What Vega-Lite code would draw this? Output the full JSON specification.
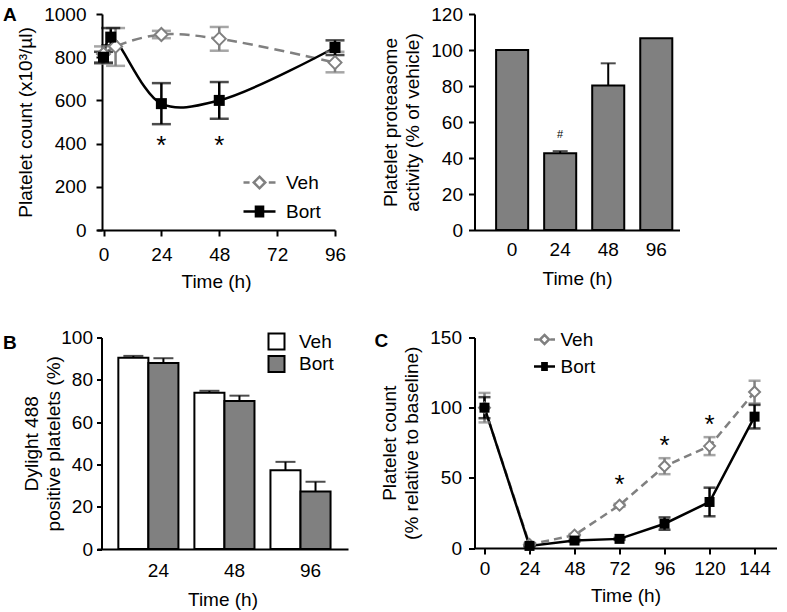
{
 "$schema": "https://vega.github.io/schema/vega-lite/v6.json",
 "background": "white",
 "padding": {"left": 3, "top": 5, "right": 5, "bottom": 5},
 "columns": 2,
 "bounds": "flush",
 "spacing": {"row": 107.5, "column": 126.5},
 "resolve": {"scale": {"color": "independent"}, "legend": {"color": "independent"}},
 "config": {
  "font": "Liberation Sans",
  "view": {"stroke": null},
  "axis": {"domainColor": "black", "domainWidth": 2, "tickColor": "black", "tickWidth": 2, "tickSize": 6, "labelFont": "Liberation Sans", "labelFontSize": 19, "labelColor": "black", "labelPadding": 5, "labelOverlap": false, "titleFont": "Liberation Sans", "titleFontSize": 19, "titleFontWeight": "normal", "titleColor": "black", "grid": false, "titleLineHeight": 22, "titlePadding": 8},
  "legend": {"labelFont": "Liberation Sans", "labelFontSize": 19, "labelColor": "black", "padding": 0},
  "title": {"font": "Liberation Sans", "fontSize": 19, "fontWeight": "bold", "color": "black", "anchor": "start", "frame": "group", "offset": -20}
 },
 "datasets": {
  "aline": [
   {"time": 0, "group": "Veh", "value": 815, "lo": 770, "hi": 850},
   {"time": 5, "group": "Veh", "value": 850, "lo": 760, "hi": 935},
   {"time": 24, "group": "Veh", "value": 905, "lo": 888, "hi": 922},
   {"time": 48, "group": "Veh", "value": 885, "lo": 830, "hi": 940},
   {"time": 96, "group": "Veh", "value": 775, "lo": 730, "hi": 825},
   {"time": 0, "group": "Bort", "value": 800, "lo": 775, "hi": 825},
   {"time": 3, "group": "Bort", "value": 893, "lo": 855, "hi": 935},
   {"time": 24, "group": "Bort", "value": 585, "lo": 490, "hi": 680},
   {"time": 48, "group": "Bort", "value": 600, "lo": 515, "hi": 685},
   {"time": 96, "group": "Bort", "value": 845, "lo": 810, "hi": 878}
  ],
  "astar": [
   {"time": 24, "y": 352, "label": "*"},
   {"time": 48, "y": 352, "label": "*"}
  ],
  "abar": [
   {"time": 0, "value": 100},
   {"time": 24, "value": 42.7, "hi": 43.8},
   {"time": 48, "value": 80.3, "hi": 92.6},
   {"time": 96, "value": 106.5}
  ],
  "ahash": [
   {"time": 24, "y": 51, "label": "#"}
  ],
  "bbar": [
   {"time": 24, "group": "Veh", "value": 90.4, "hi": 91.3},
   {"time": 24, "group": "Bort", "value": 88, "hi": 90.2},
   {"time": 48, "group": "Veh", "value": 73.9, "hi": 74.8},
   {"time": 48, "group": "Bort", "value": 70, "hi": 72.5},
   {"time": 96, "group": "Veh", "value": 37.2, "hi": 41.2},
   {"time": 96, "group": "Bort", "value": 27.2, "hi": 31.8}
  ],
  "cline": [
   {"time": 0, "group": "Veh", "value": 100, "lo": 89.5, "hi": 110.5},
   {"time": 24, "group": "Veh", "value": 2.5, "lo": 1.5, "hi": 3.5},
   {"time": 48, "group": "Veh", "value": 9.2, "lo": 8.4, "hi": 10},
   {"time": 72, "group": "Veh", "value": 30.5, "lo": 29.5, "hi": 31.5},
   {"time": 96, "group": "Veh", "value": 58.3, "lo": 52.6, "hi": 64},
   {"time": 120, "group": "Veh", "value": 72.6, "lo": 66.2, "hi": 79},
   {"time": 144, "group": "Veh", "value": 111.2, "lo": 103, "hi": 119.2},
   {"time": 0, "group": "Bort", "value": 100, "lo": 92.5, "hi": 107.5},
   {"time": 24, "group": "Bort", "value": 1.5, "lo": 1, "hi": 2},
   {"time": 48, "group": "Bort", "value": 5.3, "lo": 4.6, "hi": 6},
   {"time": 72, "group": "Bort", "value": 6.5, "lo": 5.8, "hi": 7.2},
   {"time": 96, "group": "Bort", "value": 17.3, "lo": 13, "hi": 21.8},
   {"time": 120, "group": "Bort", "value": 32.8, "lo": 22.6, "hi": 43},
   {"time": 144, "group": "Bort", "value": 93.6, "lo": 85.2, "hi": 102}
  ],
  "cstar": [
   {"time": 72, "y": 39, "label": "*"},
   {"time": 96, "y": 67, "label": "*"},
   {"time": 120, "y": 82, "label": "*"}
  ]
 },
 "concat": [
  {
   "width": 238, "height": 216,
   "title": {"text": "A", "dx": -94},
   "layer": [
    {
     "data": {"name": "aline"},
     "transform": [{"filter": "datum.group === 'Veh'"}],
     "mark": {"type": "line", "interpolate": "catmull-rom", "strokeWidth": 2.5, "color": "#808080", "strokeDash": [10, 6]},
     "encoding": {
      "x": {"field": "time", "type": "quantitative", "scale": {"domain": [-2.7, 96], "nice": false, "zero": false}, "axis": {"values": [0, 24, 48, 72, 96], "title": "Time (h)", "labelFlush": false, "labelPadding": 9, "titlePadding": 8}},
      "y": {"field": "value", "type": "quantitative", "scale": {"domain": [0, 1000], "nice": false}, "axis": {"values": [0, 200, 400, 600, 800, 1000], "format": "d", "title": "Platelet count (x10³/µl)", "offset": -5, "labelPadding": 10, "labelOverlap": false}}
     }
    },
    {
     "data": {"name": "aline"},
     "transform": [{"filter": "datum.group === 'Bort'"}],
     "mark": {"type": "line", "interpolate": "catmull-rom", "strokeWidth": 2.5, "color": "black"},
     "encoding": {
      "x": {"field": "time", "type": "quantitative"},
      "y": {"field": "value", "type": "quantitative"}
     }
    },
    {
     "data": {"name": "aline"},
     "mark": {"type": "rule", "strokeWidth": 2.5},
     "encoding": {
      "x": {"field": "time", "type": "quantitative"},
      "y": {"field": "lo", "type": "quantitative"},
      "y2": {"field": "hi"},
      "color": {"field": "group", "type": "nominal", "scale": {"domain": ["Veh", "Bort"], "range": ["#808080", "#000000"]},
       "legend": {"title": null, "orient": "none", "legendX": 145, "legendY": 151, "symbolSize": 1024, "rowPadding": -5, "labelOffset": 9, "symbolStrokeWidth": 2.5,
        "encode": {"symbols": {"update": {
         "shape": {"signal": "datum.value === 'Veh' ? 'M-1,0H-0.62M0.58,0H1M0,-0.36L0.36,0L0,0.36L-0.36,0Z' : 'M-1,0H1M-0.3,-0.3H0.3M-0.3,-0.2H0.3M-0.3,-0.1H0.3M-0.3,0H0.3M-0.3,0.1H0.3M-0.3,0.2H0.3M-0.3,0.3H0.3'"},
         "fill": {"signal": "datum.value === 'Veh' ? 'white' : 'black'"},
         "fillOpacity": {"signal": "datum.value === 'Veh' ? 0 : 1"},
         "strokeDash": {"value": []}}}}}}
     }
    },
    {
     "data": {"name": "aline"},
     "mark": {"type": "tick", "orient": "horizontal", "size": 19, "thickness": 2.5},
     "encoding": {
      "x": {"field": "time", "type": "quantitative"},
      "y": {"field": "lo", "type": "quantitative"},
      "color": {"field": "group", "type": "nominal"}
     }
    },
    {
     "data": {"name": "aline"},
     "mark": {"type": "tick", "orient": "horizontal", "size": 19, "thickness": 2.5},
     "encoding": {
      "x": {"field": "time", "type": "quantitative"},
      "y": {"field": "hi", "type": "quantitative"},
      "color": {"field": "group", "type": "nominal"}
     }
    },
    {
     "data": {"name": "aline"},
     "transform": [{"filter": "datum.group === 'Veh'"}],
     "mark": {"type": "point", "shape": "diamond", "size": 169, "fill": "white", "stroke": "#808080", "strokeWidth": 2, "opacity": 1, "fillOpacity": 1},
     "encoding": {
      "x": {"field": "time", "type": "quantitative"},
      "y": {"field": "value", "type": "quantitative"}
     }
    },
    {
     "data": {"name": "aline"},
     "transform": [{"filter": "datum.group === 'Bort'"}],
     "mark": {"type": "point", "shape": "square", "size": 121, "filled": true, "color": "black", "opacity": 1},
     "encoding": {
      "x": {"field": "time", "type": "quantitative"},
      "y": {"field": "value", "type": "quantitative"}
     }
    },
    {
     "data": {"name": "astar"},
     "mark": {"type": "text", "fontSize": 26, "baseline": "alphabetic", "color": "black"},
     "encoding": {
      "x": {"field": "time", "type": "quantitative"},
      "y": {"field": "y", "type": "quantitative"},
      "text": {"field": "label"}
     }
    }
   ]
  },
  {
   "width": 205, "height": 216,
   "layer": [
    {
     "data": {"name": "abar"},
     "mark": {"type": "bar", "fill": "#808080", "stroke": "black", "strokeWidth": 2},
     "encoding": {
      "x": {"field": "time", "type": "ordinal", "scale": {"paddingInner": 0.333, "paddingOuter": 0.3, "align": 0.75}, "axis": {"title": "Time (h)", "ticks": false, "labelAngle": 0, "labelPadding": 10, "titlePadding": 10}},
      "y": {"field": "value", "type": "quantitative", "scale": {"domain": [0, 120], "nice": false}, "axis": {"values": [0, 20, 40, 60, 80, 100, 120], "labelOverlap": false, "tickCount": 7, "labelPadding": 6, "title": ["Platelet proteasome", "activity (% of vehicle)"]}}
     }
    },
    {
     "data": {"name": "abar"},
     "transform": [{"filter": "isValid(datum.hi)"}],
     "mark": {"type": "rule", "strokeWidth": 2, "color": "black"},
     "encoding": {
      "x": {"field": "time", "type": "ordinal"},
      "y": {"field": "value", "type": "quantitative"},
      "y2": {"field": "hi"}
     }
    },
    {
     "data": {"name": "abar"},
     "transform": [{"filter": "isValid(datum.hi)"}],
     "mark": {"type": "tick", "orient": "horizontal", "size": 15, "thickness": 2, "color": "black"},
     "encoding": {
      "x": {"field": "time", "type": "ordinal"},
      "y": {"field": "hi", "type": "quantitative"}
     }
    },
    {
     "data": {"name": "ahash"},
     "mark": {"type": "text", "fontSize": 11, "baseline": "alphabetic", "color": "black"},
     "encoding": {
      "x": {"field": "time", "type": "ordinal"},
      "y": {"field": "y", "type": "quantitative"},
      "text": {"field": "label"}
     }
    }
   ]
  },
  {
   "width": 251, "height": 211.5,
   "title": {"text": "B", "dx": -94, "dy": 4},
   "data": {"name": "bbar"},
   "layer": [
    {
     "mark": {"type": "bar", "stroke": "black", "strokeWidth": 2},
     "encoding": {
      "x": {"field": "time", "type": "ordinal", "scale": {"paddingInner": 0.21, "paddingOuter": 0.255, "align": 0.55}, "axis": {"title": "Time (h)", "ticks": false, "labelAngle": 0, "labelOffset": 10, "labelPadding": 12, "titlePadding": 10}},
      "xOffset": {"field": "group", "type": "nominal", "sort": ["Veh", "Bort"], "scale": {"paddingInner": 0, "paddingOuter": 0}},
      "y": {"field": "value", "type": "quantitative", "scale": {"domain": [0, 100], "nice": false}, "axis": {"values": [0, 20, 40, 60, 80, 100], "offset": -4.5, "tickSize": 5, "labelPadding": 4, "titlePadding": -3, "title": ["Dylight 488", "positive platelets (%)"]}},
      "color": {"field": "group", "type": "nominal", "sort": ["Veh", "Bort"], "scale": {"domain": ["Veh", "Bort"], "range": ["white", "#808080"]},
       "legend": {"title": null, "orient": "none", "legendX": 170, "legendY": -5.5, "symbolType": "square", "symbolSize": 256, "symbolStrokeColor": "black", "symbolStrokeWidth": 2, "rowPadding": -2.5, "labelOffset": 13,
        "encode": {"symbols": {"update": {"stroke": {"value": "black"}, "strokeWidth": {"value": 2}}}}}}
     }
    },
    {
     "mark": {"type": "rule", "strokeWidth": 2, "color": "black"},
     "encoding": {
      "x": {"field": "time", "type": "ordinal"},
      "xOffset": {"field": "group", "type": "nominal", "sort": ["Veh", "Bort"]},
      "y": {"field": "value", "type": "quantitative"},
      "y2": {"field": "hi"}
     }
    },
    {
     "mark": {"type": "tick", "orient": "horizontal", "size": 20, "thickness": 2, "color": "black"},
     "encoding": {
      "x": {"field": "time", "type": "ordinal"},
      "xOffset": {"field": "group", "type": "nominal", "sort": ["Veh", "Bort"]},
      "y": {"field": "hi", "type": "quantitative"}
     }
    }
   ]
  },
  {
   "width": 302, "height": 210.5,
   "title": {"text": "C", "dx": -100, "dy": 3},
   "layer": [
    {
     "data": {"name": "cline"},
     "transform": [{"filter": "datum.group === 'Veh'"}],
     "mark": {"type": "line", "strokeWidth": 2.5, "color": "#808080", "strokeDash": [8, 5]},
     "encoding": {
      "x": {"field": "time", "type": "quantitative", "scale": {"domain": [-5.33, 155.7], "nice": false, "zero": false}, "axis": {"values": [0, 24, 48, 72, 96, 120, 144], "title": "Time (h)", "labelFlush": false}},
      "y": {"field": "value", "type": "quantitative", "scale": {"domain": [0, 150], "nice": false}, "axis": {"values": [0, 50, 100, 150], "labelPadding": 7, "title": ["Platelet count", "(% relative to baseline)"]}}
     }
    },
    {
     "data": {"name": "cline"},
     "transform": [{"filter": "datum.group === 'Bort'"}],
     "mark": {"type": "line", "strokeWidth": 2.5, "color": "black"},
     "encoding": {
      "x": {"field": "time", "type": "quantitative"},
      "y": {"field": "value", "type": "quantitative"}
     }
    },
    {
     "data": {"name": "cline"},
     "mark": {"type": "rule", "strokeWidth": 2.5},
     "encoding": {
      "x": {"field": "time", "type": "quantitative"},
      "y": {"field": "lo", "type": "quantitative"},
      "y2": {"field": "hi"},
      "color": {"field": "group", "type": "nominal", "scale": {"domain": ["Veh", "Bort"], "range": ["#808080", "#000000"]},
       "legend": {"title": null, "orient": "none", "legendX": 58, "legendY": -10, "symbolSize": 441, "rowPadding": 5, "labelOffset": 4, "symbolStrokeWidth": 2.5,
        "encode": {"symbols": {"update": {
         "shape": {"signal": "datum.value === 'Veh' ? 'M-1,0H-0.55M0.55,0H1M0,-0.43L0.43,0L0,0.43L-0.43,0Z' : 'M-1,0H1M-0.32,-0.32H0.32M-0.32,-0.2H0.32M-0.32,-0.08H0.32M-0.32,0.04H0.32M-0.32,0.16H0.32M-0.32,0.28H0.32M-0.32,0.32H0.32'"},
         "fill": {"signal": "datum.value === 'Veh' ? 'white' : 'black'"},
         "fillOpacity": {"signal": "datum.value === 'Veh' ? 0 : 1"},
         "strokeDash": {"value": []}}}}}}
     }
    },
    {
     "data": {"name": "cline"},
     "mark": {"type": "tick", "orient": "horizontal", "size": 12, "thickness": 2.5},
     "encoding": {
      "x": {"field": "time", "type": "quantitative"},
      "y": {"field": "lo", "type": "quantitative"},
      "color": {"field": "group", "type": "nominal"}
     }
    },
    {
     "data": {"name": "cline"},
     "mark": {"type": "tick", "orient": "horizontal", "size": 12, "thickness": 2.5},
     "encoding": {
      "x": {"field": "time", "type": "quantitative"},
      "y": {"field": "hi", "type": "quantitative"},
      "color": {"field": "group", "type": "nominal"}
     }
    },
    {
     "data": {"name": "cline"},
     "transform": [{"filter": "datum.group === 'Veh'"}],
     "mark": {"type": "point", "shape": "diamond", "size": 121, "fill": "white", "stroke": "#808080", "strokeWidth": 2, "opacity": 1, "fillOpacity": 1},
     "encoding": {
      "x": {"field": "time", "type": "quantitative"},
      "y": {"field": "value", "type": "quantitative"}
     }
    },
    {
     "data": {"name": "cline"},
     "transform": [{"filter": "datum.group === 'Bort'"}],
     "mark": {"type": "point", "shape": "square", "size": 100, "filled": true, "color": "black", "opacity": 1},
     "encoding": {
      "x": {"field": "time", "type": "quantitative"},
      "y": {"field": "value", "type": "quantitative"}
     }
    },
    {
     "data": {"name": "cstar"},
     "mark": {"type": "text", "fontSize": 26, "baseline": "alphabetic", "color": "black"},
     "encoding": {
      "x": {"field": "time", "type": "quantitative"},
      "y": {"field": "y", "type": "quantitative"},
      "text": {"field": "label"}
     }
    }
   ]
  }
 ]
}
